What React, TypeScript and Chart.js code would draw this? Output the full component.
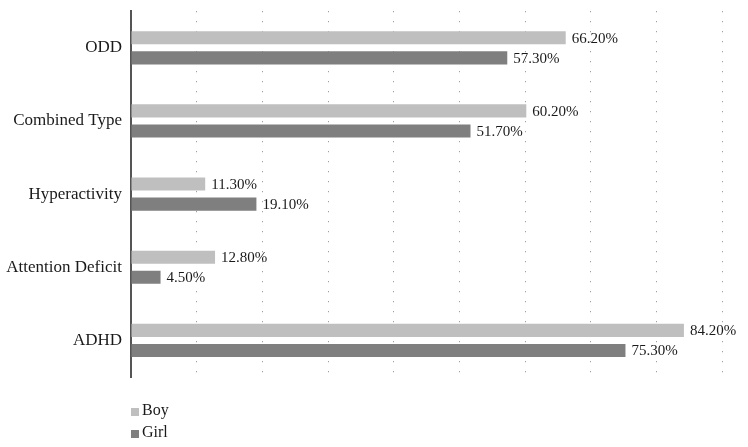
import React, { useEffect, useRef } from "react";
import { Chart, registerables } from "chart.js";

Chart.register(...registerables);

const categories = ["ODD", "Combined Type", "Hyperactivity", "Attention Deficit", "ADHD"];
const boyValues = [66.2, 60.2, 11.3, 12.8, 84.2];
const girlValues = [57.3, 51.7, 19.1, 4.5, 75.3];
const seriesNames = ["Boy", "Girl"];
const seriesColors = ["#bfbfbf", "#7f7f7f"];

const FONT = "'Liberation Serif', 'DejaVu Serif', serif";

const valueLabels = {
  id: "valueLabels",
  afterDatasetsDraw(chart: any) {
    const ctx = chart.ctx;
    ctx.save();
    ctx.font = `15px ${FONT}`;
    ctx.fillStyle = "#1a1a1a";
    ctx.textAlign = "left";
    ctx.textBaseline = "middle";
    chart.data.datasets.forEach((ds: any, di: number) => {
      const meta = chart.getDatasetMeta(di);
      meta.data.forEach((bar: any, i: number) => {
        const v = ds.data[i];
        ctx.fillText(v.toFixed(2) + "%", bar.x + 6, bar.y + 1);
      });
    });
    ctx.restore();
  },
};

const customLegend = {
  id: "customLegend",
  afterDraw(chart: any) {
    const ctx = chart.ctx;
    ctx.save();
    ctx.font = `16px ${FONT}`;
    ctx.textBaseline = "middle";
    ctx.textAlign = "left";
    const x = chart.chartArea.left;
    chart.data.datasets.forEach((ds: any, i: number) => {
      const y = 411 + i * 22;
      ctx.fillStyle = ds.backgroundColor;
      ctx.fillRect(x, y - 3, 8, 8);
      ctx.fillStyle = "#1a1a1a";
      ctx.fillText(ds.label, x + 11, y);
    });
    ctx.restore();
  },
};

export default function App() {
  const ref = useRef<HTMLCanvasElement | null>(null);
  useEffect(() => {
    document.body.style.margin = "0";
    const chart = new Chart(ref.current!, {
      type: "bar",
      data: {
        labels: categories,
        datasets: [
          { label: seriesNames[0], data: boyValues, backgroundColor: seriesColors[0], barPercentage: 0.65, categoryPercentage: 0.55 },
          { label: seriesNames[1], data: girlValues, backgroundColor: seriesColors[1], barPercentage: 0.65, categoryPercentage: 0.55 },
        ],
      },
      options: {
        indexAxis: "y",
        responsive: false,
        animation: false,
        layout: { padding: { top: 0, right: 26, bottom: 70, left: 0 } },
        plugins: { legend: { display: false }, tooltip: { enabled: false } },
        scales: {
          x: {
            min: 0,
            max: 90,
            ticks: { display: false, stepSize: 10 },
            border: { display: false, dash: [1, 9] },
            grid: {
              drawTicks: false,
              color: (c: any) => (c.tick && c.tick.value === 0 ? "rgba(0,0,0,0)" : "#8a8a8a"),
              lineWidth: 1,
            },
            afterFit: (s: any) => { s.height = 0; },
          },
          y: {
            grid: { display: false },
            border: { display: true, color: "#555555", width: 2 },
            ticks: { font: { family: FONT, size: 17 }, color: "#1a1a1a", padding: 1 },
            afterFit: (s: any) => { s.width = 131; },
          },
        },
      },
      plugins: [valueLabels, customLegend],
    } as any);
    return () => chart.destroy();
  }, []);
  return <canvas ref={ref} width={748} height={447} />;
}
